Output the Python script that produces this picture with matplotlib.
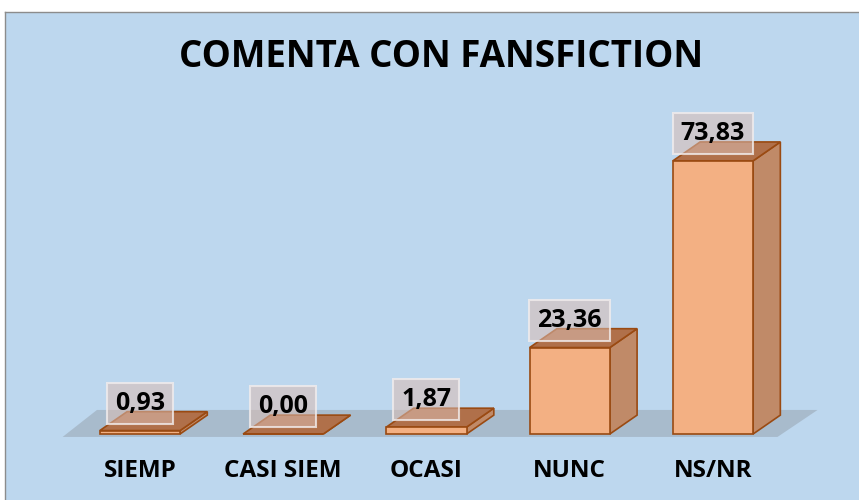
import numpy as np
import matplotlib.pyplot as plt
from matplotlib.patches import Polygon, Rectangle

categories = ['SIEMP', 'CASI SIEM', 'OCASI', 'NUNC', 'NS/NR']
values = [0.93, 0.00, 1.87, 23.36, 73.83]
value_labels = ['0,93', '0,00', '1,87', '23,36', '73,83']
title = 'COMENTA CON FANSFICTION'

FRONT = '#f3b083'
SIDE = '#c08a68'
TOP = '#b0704a'
EDGE = '#9a4a12'
BG = '#bdd7ee'

plt.rcParams['font.family'] = ['Open Sans', 'DejaVu Sans']

fig = plt.figure(figsize=(8.59, 5.0), dpi=100)
ax = fig.add_axes([5 / 859, 0, 854 / 859, 488 / 500])
ax.set_facecolor(BG)
ax.set_xlim(-0.942, 5.019)
ax.set_ylim(-17.84, 114.05)
ax.set_xticks([])
ax.set_yticks([])
for side in ['right', 'bottom']:
    ax.spines[side].set_visible(False)
for side in ['top', 'left']:
    ax.spines[side].set_color('#8c8c8c')
    ax.spines[side].set_linewidth(1.0)

x = np.arange(len(categories))
w = 0.56
dx = 0.19
dy = 5.1

# floor
fl = Polygon([(-0.54, -0.8), (4.45, -0.8), (4.73, 6.5), (-0.30, 6.5)],
             closed=True, facecolor='#a3b4c4', alpha=0.8, edgecolor='none', zorder=1)
ax.add_patch(fl)

for xi, v, lab in zip(x, values, value_labels):
    l, r = xi - w / 2, xi + w / 2
    front = Rectangle((l, 0), w, v, facecolor=FRONT, edgecolor=EDGE, lw=1.2, zorder=3)
    side = Polygon([(r, 0), (r + dx, dy), (r + dx, v + dy), (r, v)],
                   facecolor=SIDE, edgecolor=EDGE, lw=1.2, zorder=3)
    top = Polygon([(l, v), (l + dx, v + dy), (r + dx, v + dy), (r, v)],
                  facecolor=TOP, edgecolor=EDGE, lw=1.2, zorder=3)
    ax.add_patch(side)
    ax.add_patch(top)
    ax.add_patch(front)
    ax.text(xi, v + 7.4, lab, ha='center', va='center', fontsize=18, fontweight='bold',
            color='black', zorder=5,
            bbox=dict(boxstyle='square,pad=0.32', facecolor=(0.86, 0.74, 0.70, 0.55),
                      edgecolor=(0.95, 0.93, 0.93, 0.8), lw=1.5))
    ax.text(xi, -9.9, categories[xi], ha='center', va='center', fontsize=17.5,
            fontweight='bold', color='black', zorder=5)

fig.text(441 / 859, 1 - 57 / 500, title, ha='center', va='center', fontsize=26.5,
         fontweight='bold', color='black')

fig.savefig('out.png', dpi=100)
